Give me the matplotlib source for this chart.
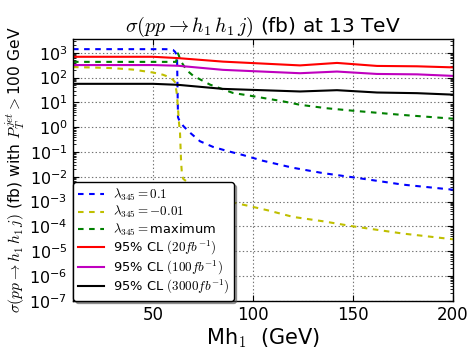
import math
import matplotlib
matplotlib.use("Agg")
import matplotlib.pyplot as plt
from matplotlib.ticker import FuncFormatter, LogLocator, NullFormatter

plt.rcParams['mathtext.fontset'] = 'cm'
plt.rcParams['font.family'] = ['DejaVu Sans']
plt.rcParams['lines.scale_dashes'] = False

# ---- data ----
x_blue = [10, 20, 30, 40, 50, 55, 58, 60, 61, 62, 62.5, 63, 65.2, 68.5, 73.5, 80, 87, 95, 105, 120, 135, 150, 175, 200]
y_blue = [1400, 1400, 1400, 1400, 1400, 1400, 1390, 1300, 1100, 800, 2.5, 2.0, 1.1, 0.6, 0.27, 0.16, 0.11, 0.075,
          0.044, 0.023, 0.014, 9.5e-3, 4.8e-3, 3.0e-3]

x_yel = [10, 20, 30, 40, 50, 55, 58, 60, 61, 62, 63, 63.5, 64, 64.5, 65.2, 68.5, 73.5, 80, 89, 97, 107.5,
         120, 135, 150, 175, 200]
y_yel = [265, 255, 240, 210, 160, 130, 105, 82, 65, 20, 1.5, 0.6, 0.05, 0.011, 8.1e-3, 5.1e-3, 3.2e-3, 1.9e-3,
         9.5e-4, 6.9e-4, 4.4e-4, 2.4e-4, 1.6e-4, 1.0e-4, 5.1e-5, 3.0e-5]

x_grn = [10, 20, 30, 40, 50, 55, 60, 61.5, 62.5, 64, 66.8, 70, 78.5, 90, 98.5, 115, 123.5, 136.8, 150, 175, 200]
y_grn = [430, 430, 430, 430, 430, 430, 430, 430, 950, 450, 200, 120, 52, 24, 18.6, 11, 8.0, 5.8, 4.6, 3.1, 2.2]

x_cl = [10, 50, 62.5, 85, 123.5, 142, 162, 182, 200]
y_cl20 = [690, 690, 610, 440, 310, 390, 295, 285, 258]
y_cl100 = [320, 320, 300, 205, 150, 175, 140, 135, 117]
y_cl3000 = [56, 56, 51, 35, 27.5, 31, 25, 23.5, 20.5]

labels = [r'$\lambda_{345} = 0.1$', r'$\lambda_{345} = -0.01$', r'$\lambda_{345} =$maximum',
          r'95% CL $(20fb^{-1})$', r'95% CL $(100fb^{-1})$', r'95% CL $(3000fb^{-1})$']
xticks = [50, 100, 150, 200]

# ---- figure ----
fig = plt.figure(figsize=(4.77, 3.58), dpi=100)
ax = fig.add_axes([73/477, 1-300.7/358, 380/477, (300.7-39.3)/358])

dash = (4, 4)
ax.plot(x_blue, y_blue, color='b', ls='--', dashes=dash, lw=1.5, label=labels[0])
ax.plot(x_yel, y_yel, color=(0.75, 0.75, 0), ls='--', dashes=dash, lw=1.5, label=labels[1])
ax.plot(x_grn, y_grn, color=(0, 0.5, 0), ls='--', dashes=dash, lw=1.5, label=labels[2])
ax.plot(x_cl, y_cl20, color='r', lw=1.5, label=labels[3])
ax.plot(x_cl, y_cl100, color=(0.75, 0, 0.75), lw=1.5, label=labels[4])
ax.plot(x_cl, y_cl3000, color='k', lw=1.5, label=labels[5])

ax.set_yscale('log')
ax.set_xlim(10, 200)
ax.set_ylim(1e-7, 3500)
ax.set_xticks(xticks)
ax.yaxis.set_major_locator(LogLocator(base=10, numticks=20))
ax.yaxis.set_minor_locator(LogLocator(base=10, subs=range(2, 10), numticks=100))
ax.yaxis.set_minor_formatter(NullFormatter())
ax.yaxis.set_major_formatter(FuncFormatter(lambda v, p: r'$\mathregular{10^{%d}}$' % round(math.log10(v))))

ax.tick_params(which='both', direction='in', top=True, right=True, labelsize=12)
ax.tick_params(axis='y', labelsize=11.5, pad=4)
ax.tick_params(which='major', length=4)
ax.tick_params(which='minor', length=2)
ax.grid(True, which='major', color='0.45', ls=':', lw=0.8)
for s in ax.spines.values():
    s.set_linewidth(1.0)

ax.set_title(r'$\sigma(pp\rightarrow h_1\,h_1\,j)$ (fb) at 13 TeV', fontsize=14.5, pad=5)
ax.set_xlabel(r'Mh$_1$  (GeV)', fontsize=15, labelpad=2)
ax.set_ylabel(r'$\sigma(pp\rightarrow h_1\,h_1\,j)$ (fb) with $P_T^{jet}>$100 GeV', fontsize=11.2)
ax.yaxis.set_label_coords(-0.118, 0.5)

leg = ax.legend(loc='lower left', fontsize=9.4, fancybox=True, shadow=True, framealpha=1,
                borderaxespad=0.0, labelspacing=0.1, handlelength=2.0, handletextpad=0.7,
                borderpad=0.35, edgecolor='k')
leg.get_frame().set_linewidth(1.0)

fig.savefig('out.png', dpi=100)
